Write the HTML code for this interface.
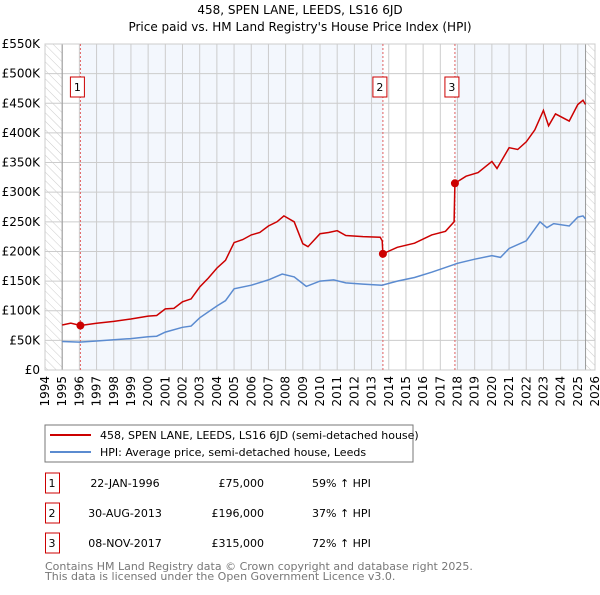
<!DOCTYPE html>
<html><head><meta charset="utf-8"><style>
body{margin:0;background:#fff;font-family:"Liberation Sans","DejaVu Sans",sans-serif;}
svg text{font-family:"DejaVu Sans","Liberation Sans",sans-serif;}
</style></head><body>
<svg id="c" width="600" height="590" xmlns="http://www.w3.org/2000/svg">
<defs><pattern id="hatch" width="6" height="6" patternUnits="userSpaceOnUse" patternTransform="rotate(-45)"><line x1="0" y1="0" x2="0" y2="6" stroke="#ccc" stroke-width="1"/></pattern></defs>
<text x="300" y="14" text-anchor="middle" font-size="12">458, SPEN LANE, LEEDS, LS16 6JD</text>
<text x="300" y="31" text-anchor="middle" font-size="12">Price paid vs. HM Land Registry's House Price Index (HPI)</text>
<g id="plot"></g>
<rect x="45" y="425" width="368" height="37" fill="#fff" stroke="#777"/>
<line x1="50" y1="435" x2="91" y2="435" stroke="#cc0000" stroke-width="2"/>
<text x="100" y="439" font-size="11">458, SPEN LANE, LEEDS, LS16 6JD (semi-detached house)</text>
<line x1="50" y1="452" x2="91" y2="452" stroke="#5b8bd0" stroke-width="2"/>
<text x="100" y="456" font-size="11">HPI: Average price, semi-detached house, Leeds</text>
<g id="table" font-size="11"></g>
<text x="45" y="570" font-size="11" fill="#777">Contains HM Land Registry data © Crown copyright and database right 2025.</text>
<text x="45" y="580" font-size="11" fill="#777">This data is licensed under the Open Government Licence v3.0.</text>
</svg>
<script>
const hpiYears=[1995,1996,1997,1998,1999,2000,2000.5,2001,2002,2002.5,2003,2004,2004.5,2005,2006,2007,2007.8,2008.5,2009.2,2010,2010.8,2011.5,2012.5,2013.6,2014.5,2015.5,2016.5,2017.2,2018,2019,2020,2020.5,2021,2022,2022.8,2023.2,2023.6,2024.5,2025,2025.3,2025.45];
const hpiValues=[48,47,49,51,53,56,57,64,72,74,88,108,117,137,143,152,162,157,141,150,152,147,145,143,150,156,165,172,180,187,193,190,205,218,250,240,247,243,258,260,255];
const redYears=[1995,1995.5,1996.06,1997,1998,1999,2000,2000.5,2001,2001.5,2002,2002.5,2003,2003.5,2004,2004.5,2005,2005.5,2006,2006.5,2007,2007.5,2007.9,2008.5,2009,2009.3,2010,2010.5,2011,2011.5,2012.5,2013.5,2013.62,2013.66,2014.5,2015.5,2016.5,2017.3,2017.8,2017.85,2018.5,2019.2,2020,2020.3,2021,2021.5,2022,2022.5,2023,2023.3,2023.7,2024.5,2025,2025.3,2025.45];
const redValues=[76,79,75,79,82,86,91,92,103,104,115,120,140,155,172,185,215,220,228,232,243,250,260,250,213,208,230,232,235,227,225,224,218,196,207,214,228,234,250,315,327,333,352,340,375,372,385,405,438,412,432,420,448,455,448];
const saleLabels=["1","2","3"];
const saleYears=[1996.06,2013.66,2017.85];
const saleValues=[75,196,315];
const saleDates=["22-JAN-1996","30-AUG-2013","08-NOV-2017"];
const salePrices=["£75,000","£196,000","£315,000"];
const saleHpi=["59% ↑ HPI","37% ↑ HPI","72% ↑ HPI"];
const yTicks=[0,50,100,150,200,250,300,350,400,450,500,550];
const xTicks=[1994,1995,1996,1997,1998,1999,2000,2001,2002,2003,2004,2005,2006,2007,2008,2009,2010,2011,2012,2013,2014,2015,2016,2017,2018,2019,2020,2021,2022,2023,2024,2025,2026];
const dataEnd=2025.45;

const X0=45,X1=595,Y0=370,Y1=44;
const xs=y=>X0+(y-1994)/32*(X1-X0);
const ys=v=>Y0-v/550*(Y0-Y1);
const NS="http://www.w3.org/2000/svg";
const plot=document.getElementById('plot');
function mk(t,a,p){const e=document.createElementNS(NS,t);for(const k in a)e.setAttribute(k,a[k]);(p||plot).appendChild(e);return e;}

let e=mk('rect',{x:xs(1994),y:Y1,width:xs(1995)-xs(1994),height:Y0-Y1,fill:'url(#hatch)'});


e=mk('rect',{x:xs(dataEnd),y:Y1,width:X1-xs(dataEnd),height:Y0-Y1,fill:'url(#hatch)'});


const bands=[[saleYears[0],saleYears[1]],[saleYears[2],dataEnd]];
bands.forEach((b,i)=>{const r=mk('rect',{x:xs(b[0]),y:Y1,width:xs(b[1])-xs(b[0]),height:Y0-Y1,fill:'#eef3fc',opacity:0.7});

});
yTicks.forEach(v=>{const l=mk('line',{x1:X0,x2:X1,y1:ys(v),y2:ys(v),stroke:'#ccc'});


const t=mk('text',{x:40,y:ys(v)+4,'text-anchor':'end','font-size':12});t.textContent=v===0?'£0':'£'+v+'K';

});
xTicks.forEach(y=>{const l=mk('line',{x1:xs(y),x2:xs(y),y1:Y1,y2:Y0,stroke:'#ccc'});


const t=mk('text',{x:0,y:0,'font-size':12,'text-anchor':'end',transform:`translate(${xs(y)+4},${Y0+6}) rotate(-90)`});t.textContent=y;

});
mk('line',{x1:xs(1995),x2:xs(1995),y1:Y1,y2:Y0,stroke:'#999'});
mk('line',{x1:xs(dataEnd),x2:xs(dataEnd),y1:Y1,y2:Y0,stroke:'#999'});
mk('rect',{x:X0,y:Y1,width:X1-X0,height:Y0-Y1,fill:'none',stroke:'#ccc'});
saleYears.forEach((y,i)=>{const l=mk('line',{x1:xs(y),x2:xs(y),y1:Y1,y2:Y0,stroke:'#e06060','stroke-dasharray':'2,2'});


const r=mk('rect',{x:xs(y)-10,y:77,width:14,height:20,fill:'#fff',stroke:'#cc0000'});


const t=mk('text',{x:xs(y)-3,y:91,'text-anchor':'middle','font-size':11});t.textContent=saleLabels[i];});
const path=(xa,va)=>xa.map((x,i)=>(i?'L':'M')+xs(x).toFixed(1)+','+ys(va[i]).toFixed(1)).join('');
e=mk('path',{d:path(hpiYears,hpiValues),fill:'none',stroke:'#5b8bd0','stroke-width':1.5});


e=mk('path',{d:path(redYears,redValues),fill:'none',stroke:'#cc0000','stroke-width':1.5});


saleYears.forEach((y,i)=>{const c=mk('circle',{cx:xs(y),cy:ys(saleValues[i]),r:4,fill:'#cc0000'});

});
const tb=document.getElementById('table');
saleLabels.forEach((s,i)=>{const cy=483+i*30;
const r=mk('rect',{x:45.5,y:cy-10,width:14,height:20,fill:'#fff',stroke:'#cc0000'},tb);


const cols=[[52,s,'middle'],[125,saleDates[i],'middle'],[264,salePrices[i],'end'],[312,saleHpi[i],'start']];
cols.forEach((c,j)=>{const t=mk('text',{x:c[0],y:cy+4,'text-anchor':c[2],'font-size':11},tb);t.textContent=c[1];

});});
</script>
</body></html>
